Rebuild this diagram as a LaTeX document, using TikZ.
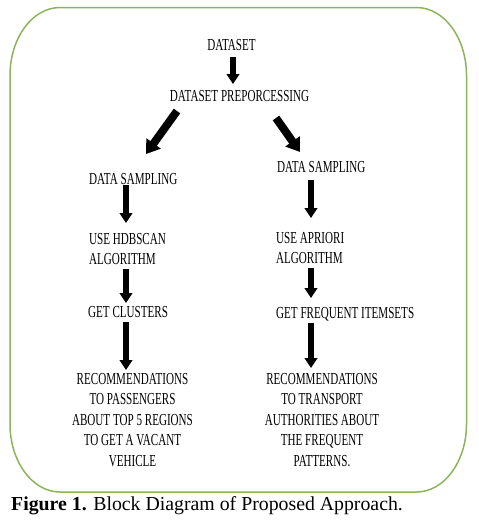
\documentclass[tikz,border=0pt]{standalone}
\usepackage{fontspec}
\setmainfont{Liberation Serif}
\newfontfamily\condfont[FakeStretch=0.66]{Liberation Serif}
\usetikzlibrary{arrows.meta}
\definecolor{framegreen}{RGB}{140,180,90}
\tikzset{
  lbl/.style={font=\condfont\fontsize{16.8}{20.5}\selectfont, inner sep=0pt},
  rec/.style={lbl, align=center, anchor=base},
  varr/.style={line width=6pt, -{Triangle[width=12.5pt,length=10pt]}},
  darr/.style={line width=8pt, -{Triangle[width=17pt,length=13pt]}},
  frame/.style={draw=framegreen, line width=1.5pt}
}
\begin{document}
\begin{tikzpicture}[x=1pt,y=-1pt]
\useasboundingbox (0,0) rectangle (479,530);
% frame
\draw[frame] (60,7.5) -- (416.5,7.5) .. controls (444.1,7.5) and (466.5,37.9) .. (466.5,75.5)
  -- (466.5,424) .. controls (466.5,461.6) and (444.1,492) .. (416.5,492)
  -- (60,492) .. controls (32.4,492) and (10,461.6) .. (10,424)
  -- (10,75.5) .. controls (10,37.9) and (32.4,7.5) .. (60,7.5) -- cycle;
% texts
\node[lbl, anchor=base] (ds) at (231.5,50) {DATASET};
\node[lbl, anchor=base] (prep) at (239.5,101) {DATASET PREPORCESSING};
\node[lbl, anchor=base west] (sampL) at (89,184) {DATA SAMPLING};
\node[lbl, anchor=base west] (sampR) at (277,172) {DATA SAMPLING};
\node[lbl, anchor=base west] (hdb1) at (89,244) {USE HDBSCAN};
\node[lbl, anchor=base west] (hdb2) at (89,264) {ALGORITHM};
\node[lbl, anchor=base west] (apr1) at (276,243) {USE APRIORI};
\node[lbl, anchor=base west] (apr2) at (276,263) {ALGORITHM};
\node[lbl, anchor=base west] (clu) at (88,317) {GET CLUSTERS};
\node[lbl, anchor=base west] (freq) at (276,318) {GET FREQUENT ITEMSETS};
\node[rec] (recL) at (132.5,466) {RECOMMENDATIONS\\TO PASSENGERS\\ABOUT TOP 5 REGIONS\\TO GET A VACANT\\VEHICLE};
\node[rec] (recR) at (322,466) {RECOMMENDATIONS\\TO TRANSPORT\\AUTHORITIES ABOUT\\THE FREQUENT\\PATTERNS.};
% arrow end points
\coordinate (a1s) at (233,57);   \coordinate (a1e) at (233,84);
\coordinate (a2s) at (177,111);  \coordinate (a2e) at (146,154);
\coordinate (a3s) at (276,118);  \coordinate (a3e) at (300,152);
\coordinate (a4s) at (126,185);  \coordinate (a4e) at (126,223);
\coordinate (a5s) at (126,269);  \coordinate (a5e) at (126,303);
\coordinate (a6s) at (126,322);  \coordinate (a6e) at (126,370);
\coordinate (a7s) at (311,180);  \coordinate (a7e) at (311,218);
\coordinate (a8s) at (311,268);  \coordinate (a8e) at (311,298);
\coordinate (a9s) at (311,323);  \coordinate (a9e) at (311,368);
\draw[varr] (a1s) -- (a1e);
\draw[darr] (a2s) -- (a2e);
\draw[darr] (a3s) -- (a3e);
\draw[varr] (a4s) -- (a4e);
\draw[varr] (a5s) -- (a5e);
\draw[varr] (a6s) -- (a6e);
\draw[varr] (a7s) -- (a7e);
\draw[varr] (a8s) -- (a8e);
\draw[varr] (a9s) -- (a9e);
% caption
\node[anchor=base west, inner sep=0pt, font=\fontsize{19.8}{22}\selectfont] (cap) at (11,510)
  {\textbf{Figure 1.} Block Diagram of Proposed Approach.};
\end{tikzpicture}
\end{document}
